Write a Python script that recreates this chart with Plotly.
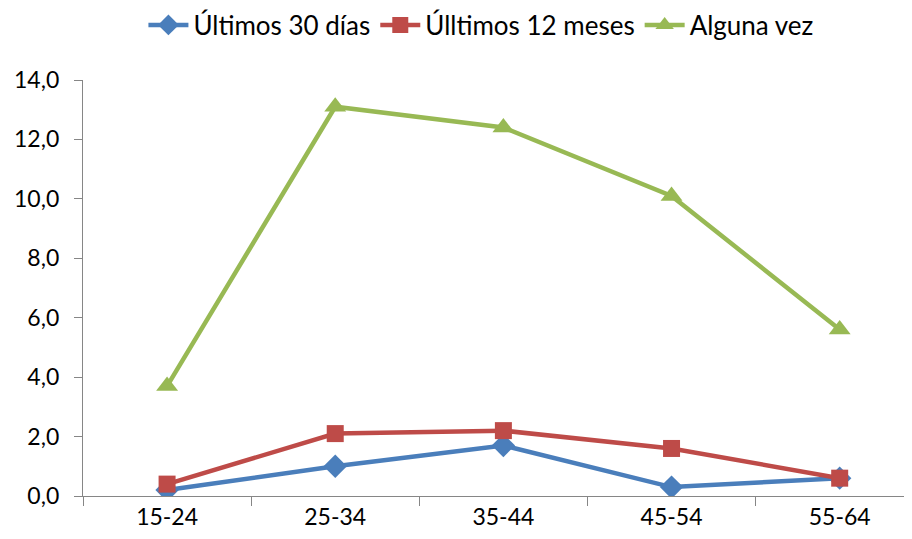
import plotly.graph_objects as go

categories = ["15-24", "25-34", "35-44", "45-54", "55-64"]
ultimos_30 = [0.2, 1.0, 1.7, 0.3, 0.6]
ultimos_12 = [0.4, 2.1, 2.2, 1.6, 0.6]
alguna_vez = [3.7, 13.1, 12.4, 10.1, 5.6]
y_ticks = [0, 2, 4, 6, 8, 10, 12, 14]

series = [
    ("Últimos 30 días", ultimos_30, "#4A7EBB", "diamond", 18),
    ("Úlltimos 12 meses", ultimos_12, "#BE4B48", "square", 17),
    ("Alguna vez", alguna_vez, "#98B954", "triangle-up", 19),
]

fig = go.Figure()
for name, vals, color, sym, size in series:
    fig.add_trace(go.Scatter(
        x=categories, y=vals, name=name, mode="lines+markers",
        line=dict(color=color, width=4.5),
        marker=dict(symbol=sym, size=size, color=color),
    ))

fig.update_layout(
    width=904, height=531,
    margin=dict(l=75, r=0, t=72, b=43),
    paper_bgcolor="white", plot_bgcolor="white",
    font=dict(family="Lato, Open Sans, sans-serif", size=23, color="#000000"),
    separators=",.",
    showlegend=True,
    legend=dict(orientation="h", x=0.48, xanchor="center", y=0.968, yanchor="middle",
                yref="container", font=dict(size=26), itemwidth=40,
                traceorder="normal"),
    xaxis=dict(
        type="category", range=[-0.5, 4.43], tickson="boundaries",
        ticks="outside", ticklen=9, tickcolor="#868686",
        showline=True, linecolor="#868686", linewidth=1.3,
        showgrid=False, zeroline=False,
    ),
    yaxis=dict(
        range=[0, 14], tickvals=y_ticks, tickformat=".1f",
        ticks="outside", ticklen=8, tickcolor="#868686",
        ticklabelstandoff=10,
        showline=True, linecolor="#868686", linewidth=1.3,
        showgrid=False, zeroline=False,
    ),
)
fig.write_html("out.html")
